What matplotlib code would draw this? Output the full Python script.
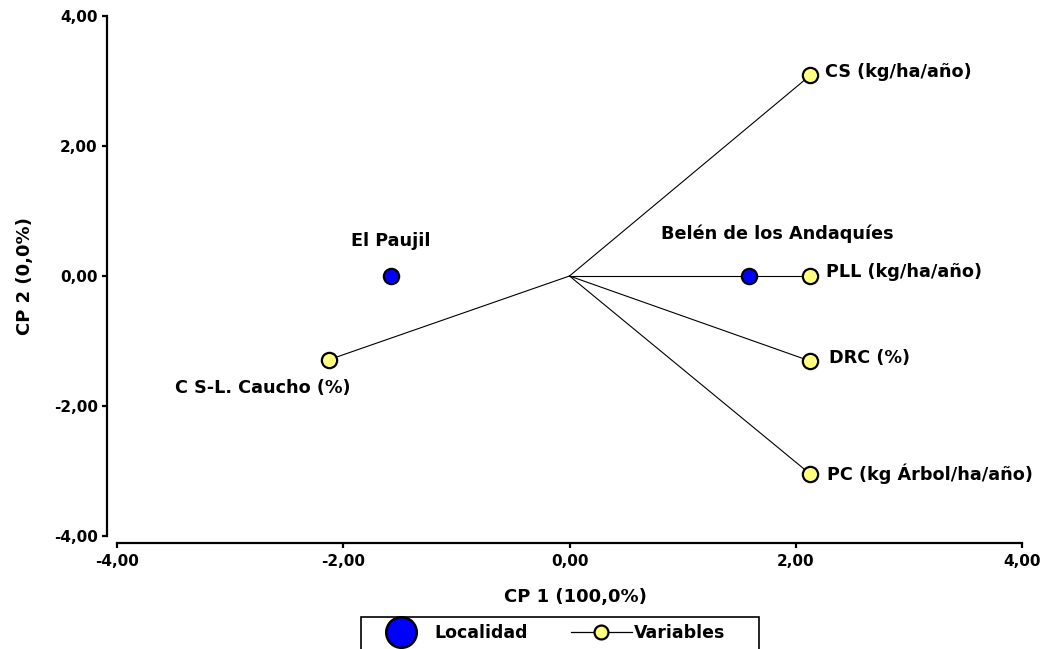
import matplotlib.pyplot as plt
from matplotlib.lines import Line2D
from matplotlib.patches import Rectangle
from matplotlib.ticker import FuncFormatter

plt.rcParams['font.family'] = ['DejaVu Sans']
plt.rcParams['font.weight'] = 'bold'

# Localidades (scores CP1, CP2)
localidades = ["El Paujil", "Belén de los Andaquíes"]
loc_cp1 = [-1.58, 1.59]
loc_cp2 = [0.0, 0.0]

# Variables (vectores desde el origen)
variables = ["CS (kg/ha/año)", "PLL (kg/ha/año)", "DRC (%)",
             "PC (kg Árbol/ha/año)", "C S-L. Caucho (%)"]
var_cp1 = [2.13, 2.13, 2.13, 2.13, -2.13]
var_cp2 = [3.09, 0.0, -1.31, -3.05, -1.29]

# desplazamiento de las etiquetas en pixeles
loc_off = [(0, 35), (28, 42)]
var_off = [(15, 3), (16, 4), (19, 3), (17, 0), (22, -28)]
var_ha = ['left', 'left', 'left', 'left', 'right']

azul = '#0000ff'
amarillo = '#ffff80'

fig = plt.figure(figsize=(10.45, 6.49), dpi=100)
W, H = 1045, 649
ax = fig.add_axes([117 / W, 1 - 536 / H, (1022 - 117) / W, (536 - 16) / H])

for x, y in zip(var_cp1, var_cp2):
    ax.plot([0, x], [0, y], color='black', lw=0.8, zorder=1)
ax.plot(var_cp1, var_cp2, 'o', ms=11, mfc=amarillo, mec='black', mew=1.6,
        ls='none', zorder=3)
ax.plot(loc_cp1, loc_cp2, 'o', ms=11, mfc=azul, mec='black', mew=1.6,
        ls='none', zorder=3)

for name, x, y, off, ha in zip(variables, var_cp1, var_cp2, var_off, var_ha):
    ax.annotate(name, (x, y), xytext=off, textcoords='offset pixels',
                ha=ha, va='center', fontsize=12.7, fontweight='bold')
for name, x, y, off in zip(localidades, loc_cp1, loc_cp2, loc_off):
    ax.annotate(name, (x, y), xytext=off, textcoords='offset pixels',
                ha='center', va='center', fontsize=12.7, fontweight='bold')

ax.set_xlim(-4, 4)
ax.set_ylim(-4, 4)
ax.set_xticks([-4, -2, 0, 2, 4])
ax.set_yticks([-4, -2, 0, 2, 4])
fmt = FuncFormatter(lambda v, p: f"{v:.2f}".replace('.', ','))
ax.xaxis.set_major_formatter(fmt)
ax.yaxis.set_major_formatter(fmt)

ax.spines['top'].set_visible(False)
ax.spines['right'].set_visible(False)
ax.spines['left'].set_position(('outward', 7.2))
ax.spines['bottom'].set_position(('outward', 5))
for s in ('left', 'bottom'):
    ax.spines[s].set_linewidth(1.6)
ax.tick_params(axis='both', direction='out', length=3.6, width=1.6,
               labelsize=11)
ax.tick_params(axis='x', pad=4)
ax.tick_params(axis='y', pad=3)
for lab in ax.get_xticklabels() + ax.get_yticklabels():
    lab.set_fontweight('bold')

fig.text(575 / W, 1 - 597 / H, "CP 1 (100,0%)", ha='center', va='center',
         fontsize=13, fontweight='bold')
fig.text(25 / W, 1 - 276 / H, "CP 2 (0,0%)", ha='center', va='center',
         rotation=90, fontsize=13, fontweight='bold')

# leyenda (marco dibujado aparte, cortado por el borde inferior)
fig.patches.append(Rectangle((361 / W, -0.05), 398 / W, 0.05 + 1 - 617 / H,
                             transform=fig.transFigure, fill=False,
                             edgecolor='black', lw=1.2))
handles = [
    Line2D([], [], marker='o', ls='none', ms=22, mfc=azul, mec='black', mew=1.8),
    Line2D([], [], marker='o', color='black', lw=0.9, ms=10, mfc=amarillo,
           mec='black', mew=1.6),
]
fig.legend(handles, ["Localidad", "Variables"], ncol=2, loc='center left',
           bbox_to_anchor=(361 / W, 1 - 633 / H), frameon=False,
           prop={'weight': 'bold', 'size': 12.5}, handlelength=3.5,
           borderpad=0, borderaxespad=0.55, handletextpad=0.15,
           columnspacing=2.5)

fig.savefig('out.png', dpi=100)
